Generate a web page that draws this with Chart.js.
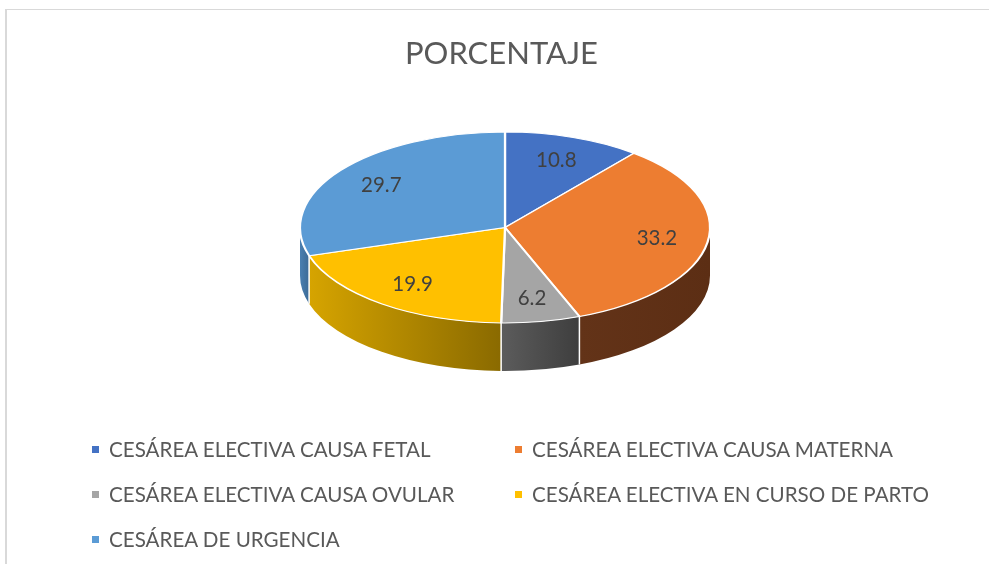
<!DOCTYPE html>
<html>
<head>
<meta charset="utf-8">
<script src="https://cdn.jsdelivr.net/npm/chart.js@4/dist/chart.umd.min.js"></script>
<style>
  body { margin: 0; background: #fff; font-family: Lato, sans-serif; }
  #wrap { position: relative; width: 989px; height: 567px; }
  #frame { position: absolute; left: 5px; top: 9px; width: 990px; height: 554px;
           border-top: 1px solid #D9D9D9; border-left: 2px solid #D9D9D9; pointer-events: none; }
  #legend { position: absolute; left: 92px; top: 437px; display: grid;
            grid-template-columns: 423px 423px; row-gap: 21px; }
  .item { height: 24px; line-height: 24px; font-size: 20.6px; color: #595959; white-space: nowrap; }
  .box { display: inline-block; width: 7px; height: 7px; margin-right: 10px; vertical-align: middle; position: relative; top: -2px; }
</style>
</head>
<body>
<div id="wrap">
  <canvas id="c1" width="989" height="567"></canvas>
  <div id="frame"></div>
  <div id="legend"></div>
</div>
<script>
const labels = [
    'CESÁREA ELECTIVA CAUSA FETAL',
    'CESÁREA ELECTIVA CAUSA MATERNA',
    'CESÁREA ELECTIVA CAUSA OVULAR',
    'CESÁREA ELECTIVA EN CURSO DE PARTO',
    'CESÁREA DE URGENCIA'
];
const porcentaje = [10.8, 33.2, 6.2, 19.9, 29.7];
const colors = ['#4472C4', '#ED7D31', '#A5A5A5', '#FFC000', '#5B9BD5'];
// side (depth) shading, left -> right
const sideColors = [
    ['#2F5597', '#2F5597'],
    ['#633318', '#5C2E14'],
    ['#5C5C5C', '#3E3E3E'],
    ['#D6A400', '#8A6A00'],
    ['#4A7FB0', '#3C6A96']
];

// ellipse geometry of the tilted pie
const CX = 505, CY = 227.5, RX = 205, RY = 95.5, DEPTH = 48;

const pie3d = {
    id: 'pie3d',
    beforeDatasetsDraw(chart) {
        const ctx = chart.ctx;
        const meta = chart.getDatasetMeta(0);
        const arc0 = meta.data[0];
        const R = arc0.outerRadius;

        // front side of the cylinder
        meta.data.forEach((arc, i) => {
            const a = Math.max(arc.startAngle, 0);
            const b = Math.min(arc.endAngle, Math.PI);
            if (b <= a) return;
            const xa = CX + RX * Math.cos(a), xb = CX + RX * Math.cos(b);
            const g = ctx.createLinearGradient(Math.min(xa, xb), 0, Math.max(xa, xb), 0);
            g.addColorStop(0, sideColors[i][0]);
            g.addColorStop(1, sideColors[i][1]);
            ctx.save();
            ctx.fillStyle = g;
            ctx.beginPath();
            ctx.ellipse(CX, CY, RX, RY, 0, a, b);
            ctx.lineTo(CX + RX * Math.cos(b), CY + DEPTH + RY * Math.sin(b));
            ctx.ellipse(CX, CY + DEPTH, RX, RY, 0, b, a, true);
            ctx.closePath();
            ctx.fill();
            ctx.restore();
        });
        // white separators on the side
        ctx.save();
        ctx.strokeStyle = '#ffffff';
        ctx.lineWidth = 1.5;
        meta.data.forEach((arc) => {
            const t = arc.startAngle;
            if (t > 0 && t < Math.PI) {
                const x = CX + RX * Math.cos(t), y = CY + RY * Math.sin(t);
                ctx.beginPath();
                ctx.moveTo(x, y);
                ctx.lineTo(x, y + DEPTH);
                ctx.stroke();
            }
        });
        ctx.restore();

        // squash the pie into the ellipse
        ctx.save();
        ctx.translate(CX, CY);
        ctx.scale(RX / R, RY / R);
        ctx.translate(-arc0.x, -arc0.y);
    },
    afterDatasetsDraw(chart) {
        const ctx = chart.ctx;
        ctx.restore();
        const meta = chart.getDatasetMeta(0);
        ctx.save();
        ctx.font = '20.5px Lato';
        ctx.fillStyle = '#404040';
        ctx.textAlign = 'center';
        ctx.textBaseline = 'middle';
        meta.data.forEach((arc, i) => {
            const m = (arc.startAngle + arc.endAngle) / 2;
            const x = CX + 0.75 * RX * Math.cos(m);
            const y = CY + 0.75 * RY * Math.sin(m);
            ctx.fillText(String(porcentaje[i]), x, y);
        });
        ctx.restore();
    }
};

Chart.defaults.font.family = 'Lato';

const chart = new Chart(document.getElementById('c1'), {
    type: 'pie',
    data: {
        labels: labels,
        datasets: [{
            label: 'PORCENTAJE',
            data: porcentaje,
            backgroundColor: colors,
            borderColor: '#ffffff',
            borderWidth: 2
        }]
    },
    options: {
        responsive: false,
        animation: false,
        events: [],
        layout: { padding: { top: 25, bottom: 120, left: 14 } },
        plugins: {
            legend: { display: false },
            tooltip: { enabled: false },
            title: {
                display: true,
                text: 'PORCENTAJE',
                color: '#595959',
                font: { size: 31, weight: 'normal', family: 'Lato' },
                padding: { top: 10, bottom: 10 }
            }
        }
    },
    plugins: [pie3d]
});

// legend built from the same arrays
const lg = document.getElementById('legend');
labels.forEach((l, i) => {
    const d = document.createElement('div');
    d.className = 'item';
    d.innerHTML = '<span class="box" style="background:' + colors[i] + '"></span>' + l;
    lg.appendChild(d);
});
</script>
</body>
</html>
